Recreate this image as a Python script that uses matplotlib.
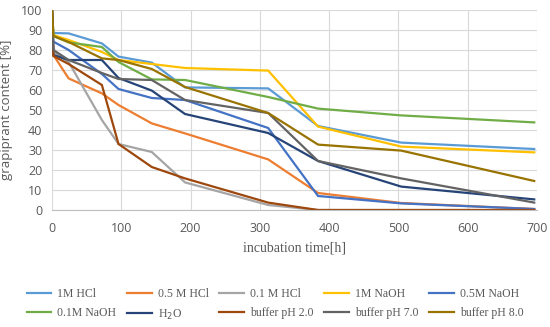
import matplotlib
matplotlib.use("Agg")
import matplotlib.pyplot as plt

# ── data ─────────────────────────────────────────────────────────────────────
time_h = [0, 2, 24, 72, 96, 144, 192, 312, 384, 504, 696]

hcl_1m      = [100, 88.5, 88.3, 83.3, 76.7, 73.7, 61.3, 60.8, 42.0, 33.7, 30.5]
hcl_05m     = [100, 77.5, 65.8, 58.3, 52.5, 43.3, 38.3, 25.3, 8.5, 3.5, 0.5]
hcl_01m     = [100, 79.0, 74.0, 45.0, 33.0, 29.0, 13.8, 2.5, 0.0, 0.0, 0.0]
naoh_1m     = [100, 87.5, 85.0, 79.0, 75.0, 73.0, 71.0, 69.7, 41.7, 31.7, 28.8]
naoh_05m    = [100, 84.2, 80.0, 68.0, 60.5, 56.0, 55.0, 41.0, 7.0, 3.3, 0.5]
naoh_01m    = [100, 87.0, 83.8, 81.5, 74.0, 65.3, 65.0, 56.5, 50.7, 47.3, 43.8]
water       = [100, 77.5, 75.0, 75.0, 66.0, 59.7, 48.0, 38.5, 24.5, 11.7, 5.3]
buffer_ph2  = [100, 77.0, 73.0, 62.5, 33.0, 21.5, 15.8, 3.7, 0.0, 0.0, 0.0]
buffer_ph7  = [100, 80.0, 75.0, 68.5, 65.5, 65.0, 55.0, 48.5, 24.5, 15.8, 3.7]
buffer_ph8  = [100, 87.0, 84.0, 75.8, 75.0, 70.5, 61.5, 48.5, 32.7, 29.7, 14.5]

labels = ['1M HCl', '0.5 M HCl', '0.1 M HCl', '1M NaOH', '0.5M NaOH',
          '0.1M NaOH', 'H$_2$O', 'buffer pH 2.0', 'buffer pH 7.0', 'buffer pH 8.0']
series = [hcl_1m, hcl_05m, hcl_01m, naoh_1m, naoh_05m,
          naoh_01m, water, buffer_ph2, buffer_ph7, buffer_ph8]
colors = ['#5B9BD5', '#ED7D31', '#A5A5A5', '#FFC000', '#4472C4',
          '#70AD47', '#264478', '#9E480E', '#636363', '#997300']

# ── figure ───────────────────────────────────────────────────────────────────
fig = plt.figure(figsize=(5.5, 3.27), dpi=100)
ax = fig.add_axes([52/550, 1 - 210/327, 485/550, 200/327])

lines = []
for ys, lab, c in zip(series, labels, colors):
    ln, = ax.plot(time_h, ys, color=c, lw=1.6, label=lab, solid_joinstyle='miter')
    lines.append(ln)

ax.set_xlim(0, 700)
ax.set_ylim(0, 100)
ax.set_xticks(range(0, 701, 100))
ax.set_yticks(range(0, 101, 10))
ax.grid(True, color='#D9D9D9', lw=0.8)
ax.set_axisbelow(True)
for s in ('top', 'right', 'left'):
    ax.spines[s].set_visible(False)
ax.spines['bottom'].set_color('#BFBFBF')
ax.tick_params(length=0, labelsize=9, colors='#595959')
ax.tick_params(axis='x', pad=9)
ax.tick_params(axis='y', pad=7)
for t in ax.get_xticklabels() + ax.get_yticklabels():
    t.set_family('Open Sans')

serif = 'Liberation Serif'
ax.set_xlabel('incubation time[h]', family=serif, fontsize=10,
              color='#595959', labelpad=4)
ax.set_ylabel('grapiprant content [%]', family='Open Sans', fontsize=9.5,
              color='#595959', labelpad=6)

# legend filled row by row (matplotlib fills by column)
order = [0, 5, 1, 6, 2, 7, 3, 8, 4, 9]
leg = fig.legend([lines[i] for i in order], [labels[i] for i in order],
                 loc='center', bbox_to_anchor=(0.5, 1 - 305/327), ncol=5,
                 frameon=False, prop={'family': serif, 'size': 8.5},
                 handlelength=2.1, columnspacing=0.9, handletextpad=0.5,
                 labelspacing=0.6, borderpad=0.2)
for t in leg.get_texts():
    t.set_color('#595959')

fig.savefig('out.png', dpi=100)
